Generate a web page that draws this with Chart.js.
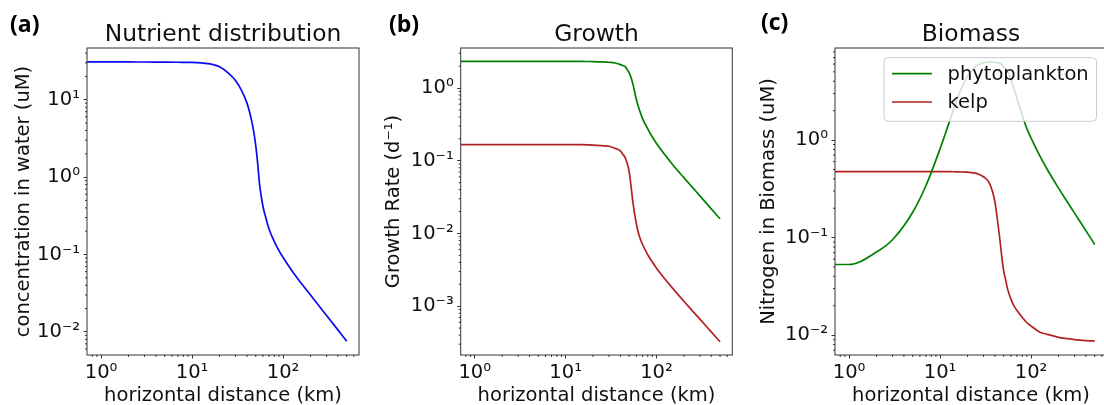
<!DOCTYPE html>
<html>
<head>
<meta charset="utf-8">
<script src="https://cdn.jsdelivr.net/npm/chart.js@4/dist/chart.umd.min.js"></script>
<style>
  html, body { margin: 0; padding: 0; background: #fff; width: 1104px; height: 405px; overflow: hidden; }
  body { position: relative; }
  canvas { position: absolute; top: 0; }
  .tag { position: absolute; font-family: "Open Sans"; font-weight: 700; font-size: 23px; line-height: 1; color: #000; }
</style>
</head>
<body>
<canvas id="chartA" width="365" height="405" style="left:0px"></canvas>
<canvas id="chartB" width="370" height="405" style="left:365px"></canvas>
<canvas id="chartC" width="372" height="405" style="left:735px"></canvas>
<div class="tag" style="left:10px;top:12px">(a)</div>
<div class="tag" style="left:389px;top:12px">(b)</div>
<div class="tag" style="left:761px;top:10px">(c)</div>
<script>
// values
const distanceKm = [0, 1, 2, 3, 5, 7, 10, 12.5, 15, 17.5, 20, 25, 30, 35, 40, 42.5, 45, 47.5, 50, 52.5, 55, 60, 65, 70, 80, 90, 100, 125, 150, 200, 250, 300, 400, 500];

const nutrient = [30.8, 30.8, 30.8, 30.7, 30.6, 30.5, 30.3, 29.9, 29.2, 28.1, 26.6, 22.1, 17.7, 13.1, 9.1, 7.15, 5.4, 3.9, 2.57, 1.53, 0.82, 0.42, 0.29, 0.213, 0.147, 0.112, 0.0912, 0.0617, 0.0461, 0.0299, 0.0214, 0.0163, 0.0106, 0.00757];

const growthPhyto = [2.32, 2.32, 2.32, 2.32, 2.32, 2.32, 2.32, 2.32, 2.32, 2.315, 2.31, 2.29, 2.26, 2.21, 2.1, 2.04, 1.98, 1.79, 1.62, 1.39, 1.13, 0.69, 0.494, 0.383, 0.274, 0.212, 0.173, 0.1186, 0.0887, 0.0585, 0.0426, 0.0329, 0.0218, 0.0159];
const growthKelp = [0.167, 0.167, 0.167, 0.167, 0.167, 0.167, 0.167, 0.167, 0.166, 0.165, 0.164, 0.161, 0.158, 0.148, 0.137, 0.123, 0.111, 0.092, 0.071, 0.044, 0.0267, 0.0135, 0.009, 0.0071, 0.0051, 0.00404, 0.00333, 0.00233, 0.00177, 0.00117, 0.000855, 0.000662, 0.000443, 0.000324];

const biomassPhyto = [0.053, 0.053, 0.071, 0.095, 0.182, 0.342, 0.815, 1.49, 2.46, 3.52, 4.52, 5.75, 6.2, 6.3, 6.25, 6.2, 6.1, 5.94, 5.64, 5.36, 5.1, 4.2, 3.33, 2.65, 1.78, 1.3, 1.045, 0.684, 0.502, 0.321, 0.232, 0.178, 0.1175, 0.085];
const biomassKelp = [0.474, 0.474, 0.474, 0.474, 0.474, 0.474, 0.474, 0.474, 0.472, 0.47, 0.468, 0.455, 0.42, 0.357, 0.233, 0.156, 0.102, 0.065, 0.0453, 0.037, 0.03, 0.0234, 0.0198, 0.0179, 0.0152, 0.0134, 0.0124, 0.0107, 0.0102, 0.0095, 0.0092, 0.009, 0.0088, 0.0087];

// tick labels
const xMajor = [1, 10, 100];
const xTickLabels = ["10⁰", "10¹", "10²"];
const yMajorA = [0.01, 0.1, 1, 10];
const yTickLabelsA = ["10⁻²", "10⁻¹", "10⁰", "10¹"];
const yMajorB = [0.001, 0.01, 0.1, 1];
const yTickLabelsB = ["10⁻³", "10⁻²", "10⁻¹", "10⁰"];
const yMajorC = [0.01, 0.1, 1];
const yTickLabelsC = ["10⁻²", "10⁻¹", "10⁰"];

const FONT = "DejaVu Sans";
const BASE = 19.5;
const TEXT = "#111";
const BLUE = "#0a0af0";
const GREEN = "#008000";
const RED = "#b22222";

// major + minor ticks (1..9 per decade) inside the axis range
function logTicks(min, max, majors) {
  const out = [];
  [majors[0] / 10, ...majors].forEach((d) => {
    for (let k = 1; k < 10; k++) {
      const v = d * k;
      if (v >= min && v <= max) out.push({ value: v, major: k === 1 });
    }
  });
  return out;
}

function logAxis(o) {
  return {
    type: "logarithmic",
    min: o.min,
    max: o.max,
    afterBuildTicks: (scale) => { scale.ticks = logTicks(o.min, o.max, o.majors); },
    afterFit: (scale) => {
      if (o.width) scale.width = o.width;
      if (o.height) scale.height = o.height;
    },
    border: { display: false },
    grid: {
      drawOnChartArea: false,
      tickLength: 3.5,
      tickWidth: 1,
      tickColor: (c) => (c.tick && c.tick.major ? "#333" : "rgba(0,0,0,0)"),
    },
    ticks: {
      autoSkip: false,
      maxRotation: 0,
      minRotation: 0,
      padding: o.tickPad,
      color: TEXT,
      font: { family: FONT, size: BASE },
      callback: (v) => {
        const i = o.majors.findIndex((m) => Math.abs(m - v) / m < 1e-6);
        return i >= 0 ? o.labels[i] : "";
      },
    },
    title: {
      display: true,
      text: o.title,
      color: TEXT,
      font: { family: FONT, size: BASE, lineHeight: 1 },
      padding: o.titlePad,
    },
  };
}

// full box round the plot area plus the short minor tick marks
const framePlugin = {
  id: "frame",
  afterDatasetsDraw(chart) {
    const { ctx, chartArea: a, scales } = chart;
    ctx.save();
    ctx.strokeStyle = "#333";
    ctx.lineWidth = 1;
    ctx.strokeRect(a.left, a.top, a.right - a.left, a.bottom - a.top);
    ctx.beginPath();
    scales.x.ticks.forEach((t) => {
      if (t.major) return;
      const px = scales.x.getPixelForValue(t.value);
      ctx.moveTo(px, a.bottom);
      ctx.lineTo(px, a.bottom + 2);
    });
    scales.y.ticks.forEach((t) => {
      if (t.major) return;
      const py = scales.y.getPixelForValue(t.value);
      ctx.moveTo(a.left, py);
      ctx.lineTo(a.left - 2, py);
    });
    ctx.stroke();
    ctx.restore();
  },
};

// matplotlib-like legend in the upper right of the plot area
const boxLegend = {
  id: "boxLegend",
  afterDraw(chart) {
    const { ctx, chartArea: a } = chart;
    const sets = chart.data.datasets;
    ctx.save();
    ctx.font = `${BASE}px "${FONT}"`;
    const textW = Math.max(...sets.map((d) => ctx.measureText(d.label).width));
    const pad = 7.8, handle = 40, gap = 15.6, rowGap = 28.4;
    const w = pad + handle + gap + textW + pad;
    const h = 63.7;
    const right = a.right - 10.5;
    const top = a.top + 9.6;
    const left = right - w;
    ctx.beginPath();
    ctx.roundRect(left, top, w, h, 4);
    ctx.fillStyle = "rgba(255,255,255,0.8)";
    ctx.fill();
    ctx.strokeStyle = "#cccccc";
    ctx.lineWidth = 1;
    ctx.stroke();
    sets.forEach((d, i) => {
      const cy = top + 16 + i * rowGap;
      ctx.beginPath();
      ctx.moveTo(left + pad, cy);
      ctx.lineTo(left + pad + handle, cy);
      ctx.strokeStyle = d.borderColor;
      ctx.lineWidth = d.borderWidth;
      ctx.stroke();
      ctx.fillStyle = TEXT;
      ctx.textBaseline = "middle";
      ctx.textAlign = "left";
      ctx.fillText(d.label, left + pad + handle + gap, cy + 1);
    });
    ctx.restore();
  },
};

function makePanel(id, cfg) {
  return new Chart(document.getElementById(id), {
    type: "line",
    data: {
      datasets: cfg.series.map((s) => ({
        label: s.label,
        data: distanceKm.map((d, i) => ({ x: d, y: s.values[i] })),
        borderColor: s.color,
        borderWidth: 1.7,
        pointRadius: 0,
        cubicInterpolationMode: "monotone",
        fill: false,
      })),
    },
    options: {
      responsive: false,
      animation: false,
      devicePixelRatio: 1,
      events: [],
      layout: { padding: { left: 0, right: cfg.padRight, top: 0, bottom: 0 } },
      scales: {
        x: logAxis({
          min: 0.733, max: 682, majors: xMajor, labels: xTickLabels,
          height: 50, tickPad: 3, title: "horizontal distance (km)",
          titlePad: { top: 0, bottom: -0.75 },
        }),
        y: logAxis({
          min: cfg.yMin, max: cfg.yMax, majors: cfg.yMajor, labels: cfg.yLabels,
          width: cfg.yWidth, tickPad: 3.5, title: cfg.yTitle,
          titlePad: { top: cfg.yTitlePad, bottom: 0 },
        }),
      },
      plugins: {
        legend: { display: false },
        tooltip: { enabled: false },
        title: {
          display: true,
          text: cfg.title,
          fullSize: false,
          color: TEXT,
          font: { family: FONT, size: 23.4, weight: "normal", lineHeight: 1 },
          padding: { top: 22.8, bottom: 1.8 },
        },
      },
    },
    plugins: cfg.legend ? [framePlugin, boxLegend] : [framePlugin],
  });
}

makePanel("chartA", {
  title: "Nutrient distribution",
  series: [{ label: "nutrient", values: nutrient, color: BLUE }],
  yMin: 0.00502, yMax: 46.6, yMajor: yMajorA, yLabels: yTickLabelsA,
  yTitle: "concentration in water (uM)", yWidth: 87, yTitlePad: 13.75, padRight: 6,
});

makePanel("chartB", {
  title: "Growth",
  series: [
    { label: "phytoplankton", values: growthPhyto, color: GREEN },
    { label: "kelp", values: growthKelp, color: RED },
  ],
  yMin: 0.000213, yMax: 3.55, yMajor: yMajorB, yLabels: yTickLabelsB,
  yTitle: "Growth Rate (d⁻¹)", yWidth: 95.7, yTitlePad: 18.85, padRight: 2.7,
});

makePanel("chartC", {
  title: "Biomass",
  series: [
    { label: "phytoplankton", values: biomassPhyto, color: GREEN },
    { label: "kelp", values: biomassKelp, color: RED },
  ],
  yMin: 0.00626, yMax: 8.77, yMajor: yMajorC, yLabels: yTickLabelsC,
  yTitle: "Nitrogen in Biomass (uM)", yWidth: 100, yTitlePad: 24.25, padRight: 0,
  legend: true,
});
</script>
</body>
</html>
